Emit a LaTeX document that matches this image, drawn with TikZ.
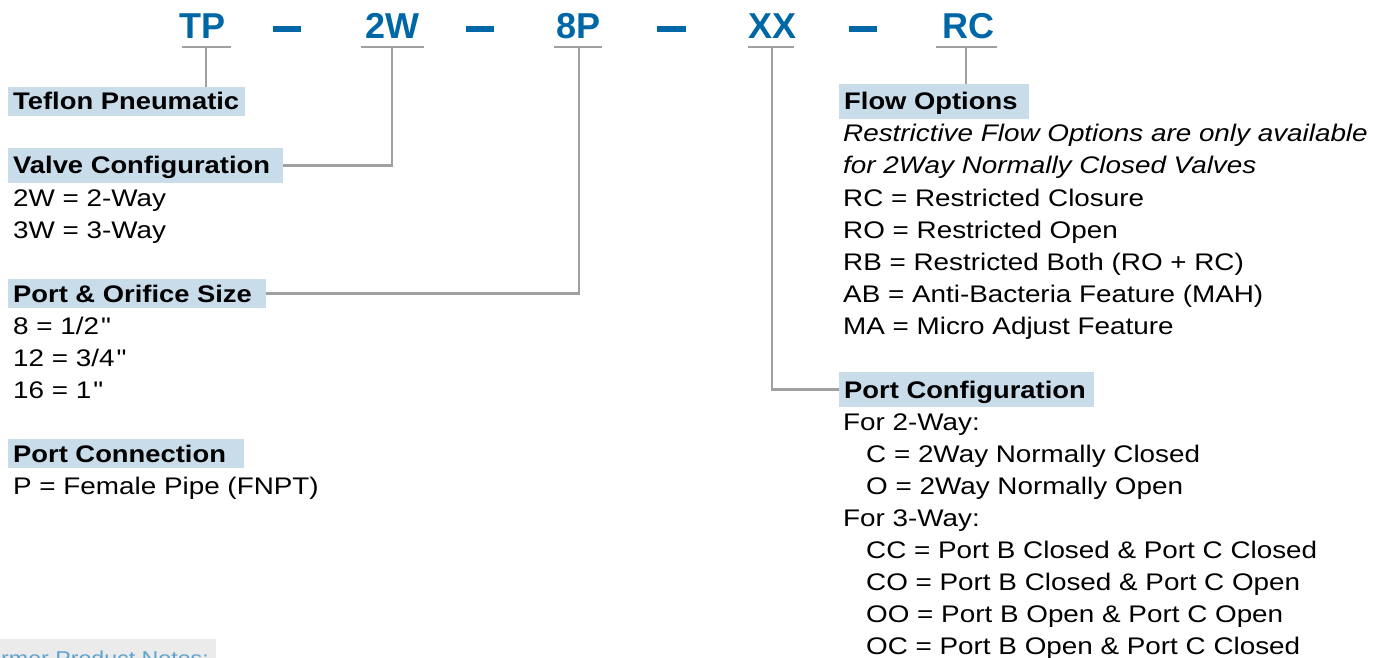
\documentclass[tikz,border=0pt]{standalone}
\usepackage{fontspec}
\setmainfont{Liberation Sans}[Ligatures=TeXOff, FakeStretch=1.16, BoldFeatures={FakeStretch=1.14}]
\newfontfamily\codefont{Liberation Sans}
\definecolor{codeblue}{HTML}{0067A6}
\definecolor{hl}{HTML}{C9DCEA}
\definecolor{lgray}{HTML}{A0A0A0}
\definecolor{notebg}{HTML}{EBEBEB}
\definecolor{noteblue}{HTML}{5FA3CC}
\newcommand\hbx[2]{\makebox[#1pt][l]{#2}}
\begin{document}
\begin{tikzpicture}[x=1pt,y=-1pt,
  code/.style={font=\codefont\bfseries\fontsize{36}{40}\selectfont, text=codeblue, inner sep=0pt, anchor=base west},
  sepbar/.style={fill=codeblue},
  uline/.style={draw=lgray, line width=2.8pt},
  conn/.style={draw=lgray, line width=2.8pt},
  hdr/.style={fill=hl, font=\bfseries\fontsize{24}{28}\selectfont, inner xsep=5pt, inner ysep=3pt, text height=20pt, text depth=3pt, anchor=base west},
  hdrdesc/.style={hdr, text height=23pt, text depth=6pt},
  body/.style={font=\fontsize{24}{28}\selectfont, inner sep=0pt, anchor=base west},
  note/.style={font=\fontsize{20}{24}\selectfont, text=noteblue, inner sep=0pt, anchor=base west}]
\useasboundingbox (0,0) rectangle (1387,658);

% part number codes
\node[code] (tp) at (179,39) {TP};
\node[code] (tw) at (365,39) {2W};
\node[code] (ep) at (556,39) {8P};
\node[code] (xx) at (748,39) {XX};
\node[code] (rc) at (942,39) {RC};
\fill[sepbar] (273,26) rectangle (301,32);
\fill[sepbar] (465.5,26) rectangle (493.5,32);
\fill[sepbar] (657,26) rectangle (686,32);
\fill[sepbar] (849,26) rectangle (877,32);

% underline anchor points
\coordinate (tpu) at (206,47);
\coordinate (twu) at (392,47);
\coordinate (epu) at (579,47);
\coordinate (xxu) at (772,47);
\coordinate (rcu) at (966,47);
\draw[uline] ([xshift=-24.5pt]tpu) -- ([xshift=24.5pt]tpu);
\draw[uline] ([xshift=-31pt]twu) -- ([xshift=32pt]twu);
\draw[uline] ([xshift=-25pt]epu) -- ([xshift=23pt]epu);
\draw[uline] ([xshift=-24pt]xxu) -- ([xshift=22pt]xxu);
\draw[uline] ([xshift=-30.5pt]rcu) -- ([xshift=31pt]rcu);

% left column
\node[hdr] (tpbox) at (8,110) {\hbx{227}{Teflon Pneumatic}};
\node[hdrdesc] (vcbox) at (8,174) {\hbx{265}{Valve Configuration}};
\node[body] (v1) at (13,206) {2W = 2-Way};
\node[body] (v2) at (13,238) {3W = 3-Way};
\node[hdr] (posbox) at (8,302) {\hbx{248}{Port \& Orifice Size}};
\node[body] (s1) at (13,334) {8 = 1/2\kern2pt"};
\node[body] (s2) at (13,366) {12 = 3/4\kern2pt"};
\node[body] (s3) at (13,398) {16 = 1\kern2pt"};
\node[hdr] (pcnbox) at (8,462) {\hbx{226}{Port Connection}};
\node[body] (c1) at (13,494) {P = Female Pipe (FNPT)};

% notes tab
\node[fill=notebg, inner sep=0pt, minimum width=216pt, minimum height=30pt, anchor=north west] (notebox) at (0,639) {};
\node[note] (notes) at (1,665) {rmer Product Notes:};

% right column
\node[hdrdesc] (flbox) at (839,110) {\hbx{180}{Flow Options}};
\node[body, font=\itshape\fontsize{24}{28}\selectfont] (f1) at (843,142) {Restrictive Flow Options are only available};
\node[body, font=\itshape\fontsize{24}{28}\selectfont] (f2) at (843,174) {for 2Way Normally Closed Valves};
\node[body] (f3) at (843,206) {RC = Restricted Closure};
\node[body] (f4) at (843,238) {RO = Restricted Open};
\node[body] (f5) at (843,270) {RB = Restricted Both (RO + RC)};
\node[body] (f6) at (843,302) {AB = Anti-Bacteria Feature (MAH)};
\node[body] (f7) at (843,334) {MA = Micro Adjust Feature};

\node[hdrdesc] (pcbox) at (839,398) {\hbx{245}{Port Configuration}};
\node[body] (p1) at (843,430) {For 2-Way:};
\node[body] (p2) at (866,462) {C = 2Way Normally Closed};
\node[body] (p3) at (866,494) {O = 2Way Normally Open};
\node[body] (p4) at (843,526) {For 3-Way:};
\node[body] (p5) at (866,558) {CC = Port B Closed \& Port C Closed};
\node[body] (p6) at (866,590) {CO = Port B Closed \& Port C Open};
\node[body] (p7) at (866,622) {OO = Port B Open \& Port C Open};
\node[body] (p8) at (866,654) {OC = Port B Open \& Port C Closed};

% connectors
\draw[conn] (tpu) -- (tpu |- tpbox.north);
\draw[conn] (twu) |- (vcbox.east);
\draw[conn] (epu) |- (posbox.east);
\draw[conn] (xxu) |- (pcbox.west);
\draw[conn] (rcu) -- (rcu |- flbox.north);
\end{tikzpicture}
\end{document}
